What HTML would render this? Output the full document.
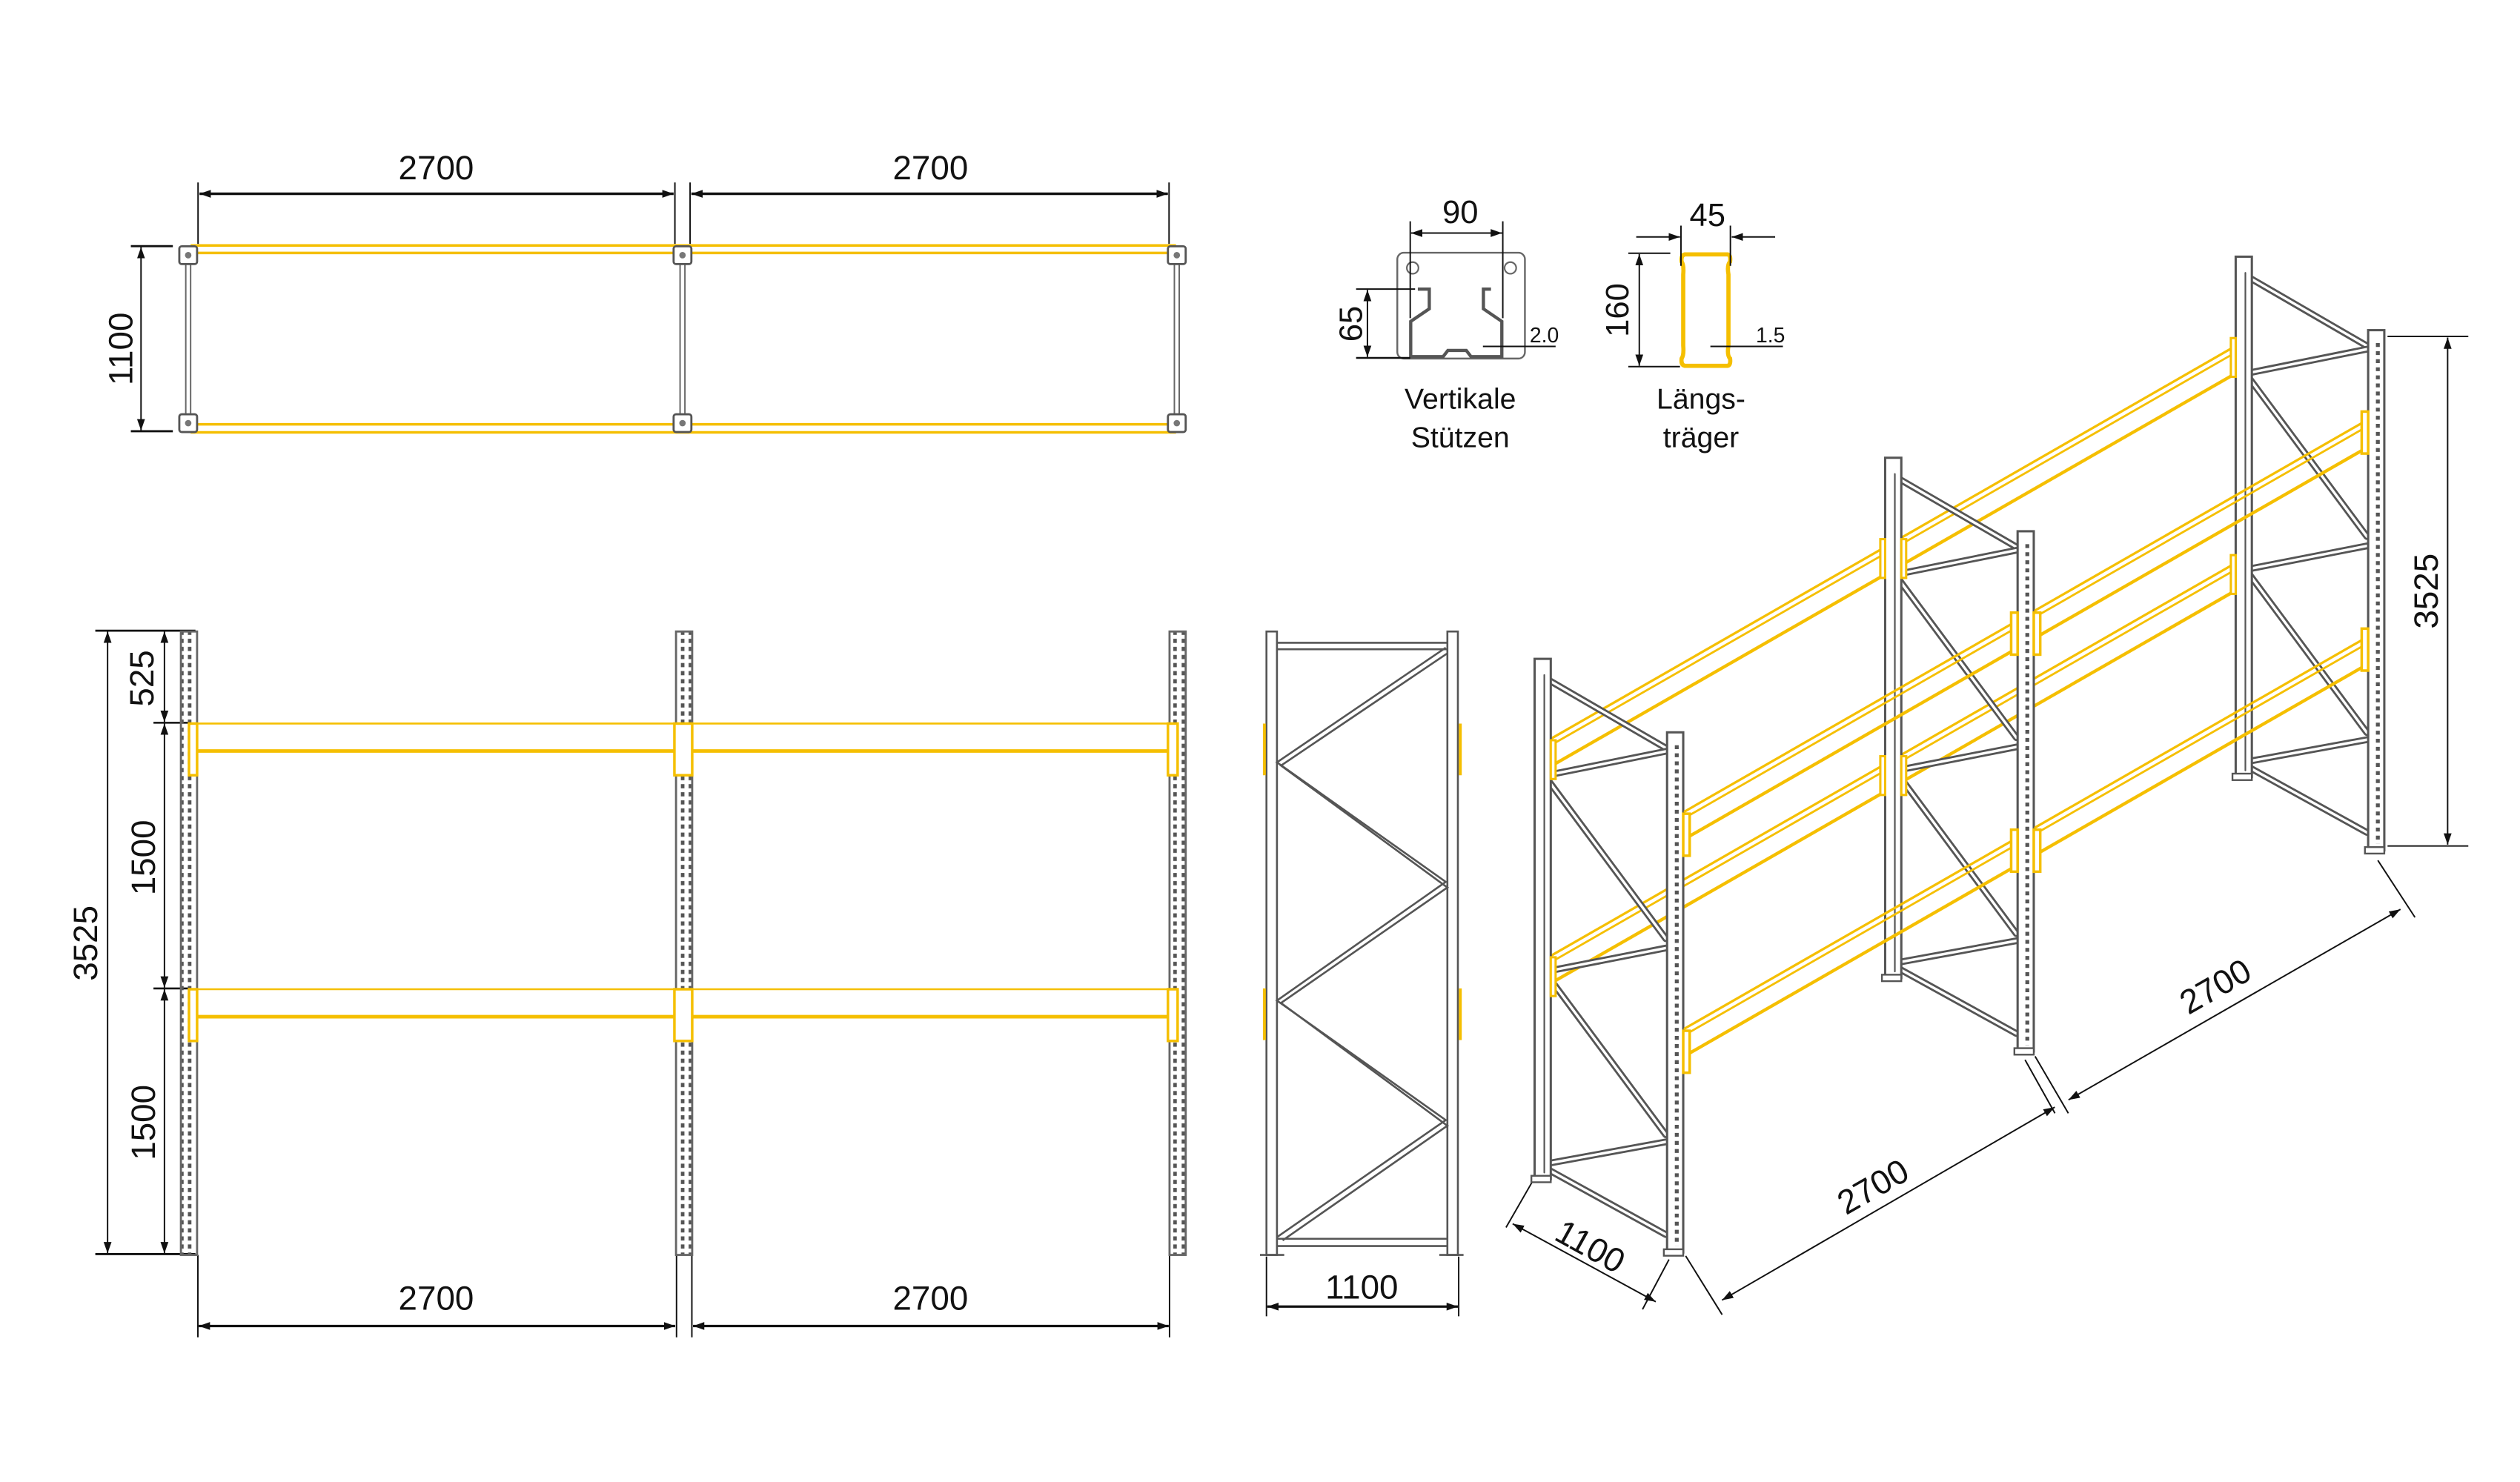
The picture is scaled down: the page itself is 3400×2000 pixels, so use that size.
<!DOCTYPE html>
<html><head><meta charset="utf-8"><style>
html,body{margin:0;padding:0;background:#fff;}
svg{display:block;}
text{font-family:"Liberation Sans",sans-serif;fill:#111;}
</style></head><body>
<svg id="s" width="3400" height="2000" viewBox="0 0 1560 917.6" preserveAspectRatio="none" xmlns="http://www.w3.org/2000/svg">
<defs>
<marker id="ar" viewBox="0 0 10 10" refX="10" refY="5" markerWidth="7" markerHeight="7" orient="auto-start-reverse" markerUnits="userSpaceOnUse"><path d="M0,1.5 L10,5 L0,8.5 Z" fill="#111"/></marker>
<pattern id="perf" width="10" height="5" patternUnits="userSpaceOnUse"><rect x="1.5" y="0.5" width="2.2" height="2.6" fill="#555"/><rect x="6.3" y="0.5" width="2.2" height="2.6" fill="#555"/></pattern>
</defs>
<g id="static" stroke-linecap="butt">
<!-- ===== TOP VIEW ===== -->
<g stroke="#111" stroke-width="0.9" fill="none">
<line x1="122.6" y1="113" x2="122.6" y2="151"/><line x1="417.8" y1="113" x2="417.8" y2="151"/>
<line x1="427.2" y1="113" x2="427.2" y2="151"/><line x1="723.7" y1="113" x2="723.7" y2="151"/>
<line x1="123.5" y1="120" x2="417" y2="120" stroke-width="1.6" marker-start="url(#ar)" marker-end="url(#ar)"/>
<line x1="428" y1="120" x2="723" y2="120" stroke-width="1.6" marker-start="url(#ar)" marker-end="url(#ar)"/>
<line x1="81" y1="152.4" x2="107" y2="152.4" stroke-width="1.3"/><line x1="81" y1="267" x2="107" y2="267" stroke-width="1.3"/>
<line x1="87.3" y1="153" x2="87.3" y2="266.5" marker-start="url(#ar)" marker-end="url(#ar)"/>
</g>
<text x="270" y="111" font-size="21" text-anchor="middle">2700</text>
<text x="576" y="111" font-size="21" text-anchor="middle">2700</text>
<text transform="translate(82,216) rotate(-90)" font-size="21" text-anchor="middle">1100</text>
<g stroke="#f5bf00" stroke-width="1.6">
<line x1="118" y1="152" x2="728" y2="152"/><line x1="118" y1="156.6" x2="728" y2="156.6"/>
<line x1="118" y1="262.7" x2="728" y2="262.7"/><line x1="118" y1="267.7" x2="728" y2="267.7"/>
</g>
<g stroke="#666" stroke-width="0.9" fill="none">
<line x1="115" y1="163" x2="115" y2="257"/><line x1="118" y1="163" x2="118" y2="257"/>
<line x1="421" y1="163" x2="421" y2="257"/><line x1="424" y1="163" x2="424" y2="257"/>
<line x1="727" y1="163" x2="727" y2="257"/><line x1="730" y1="163" x2="730" y2="257"/>
</g>
<g stroke="#555" stroke-width="1.3" fill="#fff">
<rect x="111" y="152.5" width="11" height="11" rx="1.5"/><rect x="111" y="256.5" width="11" height="11" rx="1.5"/>
<rect x="417" y="152.5" width="11" height="11" rx="1.5"/><rect x="417" y="256.5" width="11" height="11" rx="1.5"/>
<rect x="723" y="152.5" width="11" height="11" rx="1.5"/><rect x="723" y="256.5" width="11" height="11" rx="1.5"/>
</g>
<g fill="#777"><circle cx="116.5" cy="158" r="2"/><circle cx="116.5" cy="262" r="2"/><circle cx="422.5" cy="158" r="2"/><circle cx="422.5" cy="262" r="2"/><circle cx="728.5" cy="158" r="2"/><circle cx="728.5" cy="262" r="2"/></g>

<!-- ===== FRONT VIEW ===== -->
<g stroke="#111" stroke-width="0.9" fill="none">
<line x1="59" y1="390.5" x2="121" y2="390.5" stroke-width="1.3"/><line x1="59" y1="776.5" x2="121" y2="776.5" stroke-width="1.3"/>
<line x1="95" y1="447.5" x2="118" y2="447.5" stroke-width="1.2"/><line x1="95" y1="612" x2="118" y2="612" stroke-width="1.2"/>
<line x1="66.6" y1="391" x2="66.6" y2="776" marker-start="url(#ar)" marker-end="url(#ar)"/>
<line x1="101.8" y1="391" x2="101.8" y2="447" marker-start="url(#ar)" marker-end="url(#ar)"/>
<line x1="101.8" y1="448" x2="101.8" y2="611.5" marker-start="url(#ar)" marker-end="url(#ar)"/>
<line x1="101.8" y1="612.5" x2="101.8" y2="776" marker-start="url(#ar)" marker-end="url(#ar)"/>
<line x1="122.5" y1="777" x2="122.5" y2="828"/><line x1="418.8" y1="777" x2="418.8" y2="828"/>
<line x1="428.3" y1="777" x2="428.3" y2="828"/><line x1="724" y1="777" x2="724" y2="828"/>
<line x1="123" y1="821" x2="418" y2="821" stroke-width="1.5" marker-start="url(#ar)" marker-end="url(#ar)"/>
<line x1="429" y1="821" x2="723.5" y2="821" stroke-width="1.5" marker-start="url(#ar)" marker-end="url(#ar)"/>
</g>
<text transform="translate(95,420) rotate(-90)" font-size="21" text-anchor="middle">525</text>
<text transform="translate(96,531) rotate(-90)" font-size="21" text-anchor="middle">1500</text>
<text transform="translate(96,695) rotate(-90)" font-size="21" text-anchor="middle">1500</text>
<text transform="translate(60,584) rotate(-90)" font-size="21" text-anchor="middle">3525</text>
<text x="270" y="811" font-size="21" text-anchor="middle">2700</text>
<text x="576" y="811" font-size="21" text-anchor="middle">2700</text>
<g stroke="#666" stroke-width="1.3">
<rect x="112" y="391" width="10" height="386" fill="url(#perf)"/>
<rect x="418.5" y="391" width="10" height="386" fill="url(#perf)"/>
<rect x="724" y="391" width="10" height="386" fill="url(#perf)"/>
</g>
<g stroke="#f5bf00" fill="none">
<line x1="122" y1="448" x2="418.5" y2="448" stroke-width="1.2"/><line x1="122" y1="465" x2="418.5" y2="465" stroke-width="2.2"/>
<line x1="428.5" y1="448" x2="724" y2="448" stroke-width="1.2"/><line x1="428.5" y1="465" x2="724" y2="465" stroke-width="2.2"/>
<line x1="122" y1="612.5" x2="418.5" y2="612.5" stroke-width="1.2"/><line x1="122" y1="629.5" x2="418.5" y2="629.5" stroke-width="2.2"/>
<line x1="428.5" y1="612.5" x2="724" y2="612.5" stroke-width="1.2"/><line x1="428.5" y1="629.5" x2="724" y2="629.5" stroke-width="2.2"/>
<g stroke-width="1.6" fill="#fff">
<rect x="117" y="448" width="5" height="32"/><rect x="417.5" y="448" width="11" height="32"/><rect x="723" y="448" width="6" height="32"/>
<rect x="117" y="612.5" width="5" height="32"/><rect x="417.5" y="612.5" width="11" height="32"/><rect x="723" y="612.5" width="6" height="32"/>
</g>
</g>

<!-- ===== SIDE FRAME ===== -->
<g fill="none" stroke="#555" stroke-width="1.2">
<rect x="784" y="391" width="6.5" height="386"/><rect x="896" y="391" width="6.5" height="386"/>
<line x1="790.5" y1="398" x2="896" y2="398"/><line x1="790.5" y1="402" x2="896" y2="402"/>
<line x1="790.5" y1="767" x2="896" y2="767"/><line x1="790.5" y1="771.5" x2="896" y2="771.5"/>
<polyline points="895,401 790.5,472 895,546 790.5,619.5 895,693.5 790.5,766"/>
<polyline points="896,404.5 793,474 896,549.5 793,621 896,697 794,768"/>
<line x1="780" y1="777" x2="795" y2="777"/><line x1="891" y1="777" x2="906" y2="777"/>
</g>
<g stroke="#f5bf00" stroke-width="1.8">
<line x1="782.7" y1="448" x2="782.7" y2="480"/><line x1="904" y1="448" x2="904" y2="480"/>
<line x1="782.7" y1="612" x2="782.7" y2="644"/><line x1="904" y1="612" x2="904" y2="644"/>
</g>
<g stroke="#111" stroke-width="0.9">
<line x1="784" y1="778" x2="784" y2="815"/><line x1="903" y1="778" x2="903" y2="815"/>
<line x1="784.5" y1="809" x2="902.5" y2="809" stroke-width="1.5" marker-start="url(#ar)" marker-end="url(#ar)"/>
</g>
<text x="843" y="804" font-size="21" text-anchor="middle">1100</text>

<!-- ===== PROFILES ===== -->
<rect x="865" y="156.5" width="79" height="65.5" rx="4" fill="none" stroke="#666" stroke-width="1.1"/>
<g fill="none" stroke="#666" stroke-width="1"><circle cx="874.5" cy="165.9" r="3.6"/><circle cx="935" cy="165.9" r="3.6"/></g>
<path d="M877.7,179 L884.8,179 L884.8,191.2 L873.3,199 L873.3,220.8 L893.4,220.8 L896.3,217 L907.7,217 L910.6,220.8 L929.7,220.8 L929.7,199 L918.3,191.2 L918.3,179 L923,179" fill="none" stroke="#555" stroke-width="2"/>
<g stroke="#111" stroke-width="0.9" fill="none">
<line x1="873" y1="137" x2="873" y2="197"/><line x1="930.3" y1="137" x2="930.3" y2="197"/>
<line x1="873.5" y1="144.3" x2="929.8" y2="144.3" marker-start="url(#ar)" marker-end="url(#ar)"/>
<line x1="839.5" y1="179" x2="876" y2="179"/><line x1="839.5" y1="221.6" x2="873" y2="221.6" stroke-width="1.2"/>
<line x1="846.5" y1="179.5" x2="846.5" y2="221" marker-start="url(#ar)" marker-end="url(#ar)"/>
<line x1="918" y1="214.5" x2="963" y2="214.5"/>
</g>
<text x="904" y="138" font-size="20" text-anchor="middle">90</text>
<text transform="translate(843,200.5) rotate(-90)" font-size="20" text-anchor="middle">65</text>
<text x="956" y="212" font-size="13" text-anchor="middle">2.0</text>
<text x="904" y="253" font-size="18" text-anchor="middle">Vertikale</text>
<text x="904" y="277" font-size="18" text-anchor="middle">Stützen</text>
<path d="M1043,157.5 L1069.5,157.5 Q1071.5,158 1071,162 Q1069,164 1070,170 L1070,214 Q1069,220 1071,222 Q1071.5,226 1069.5,226.5 L1043,226.5 Q1040.5,226 1041,222 Q1042.5,220 1042,214 L1042,170 Q1042.5,164 1041,162 Q1040.5,158 1043,157.5 Z" fill="none" stroke="#f5bf00" stroke-width="2.6"/>
<g stroke="#111" stroke-width="0.9" fill="none">
<line x1="1040.6" y1="139.7" x2="1040.6" y2="164.6"/><line x1="1071.2" y1="139.7" x2="1071.2" y2="164.6"/>
<line x1="1012.9" y1="146.7" x2="1040" y2="146.7" marker-end="url(#ar)"/>
<line x1="1098.9" y1="146.7" x2="1072" y2="146.7" marker-end="url(#ar)"/>
<line x1="1008" y1="156.8" x2="1034" y2="156.8"/><line x1="1008" y1="227" x2="1040" y2="227"/>
<line x1="1014.8" y1="157.3" x2="1014.8" y2="226.5" marker-start="url(#ar)" marker-end="url(#ar)"/>
<line x1="1058.8" y1="214.5" x2="1103.7" y2="214.5"/>
</g>
<text x="1057" y="140" font-size="20" text-anchor="middle">45</text>
<text transform="translate(1008,192) rotate(-90)" font-size="20" text-anchor="middle">160</text>
<text x="1096" y="212" font-size="13" text-anchor="middle">1.5</text>
<text x="1053" y="253" font-size="18" text-anchor="middle">Längs-</text>
<text x="1053" y="277" font-size="18" text-anchor="middle">träger</text>

<!-- ===== ISO DIMENSIONS ===== -->
<g stroke="#111" stroke-width="0.9" fill="none">
<line x1="1478" y1="208.3" x2="1528" y2="208.3"/><line x1="1478" y1="523.8" x2="1528" y2="523.8"/>
<line x1="1515.2" y1="209" x2="1515.2" y2="523" marker-start="url(#ar)" marker-end="url(#ar)"/>
<line x1="1472" y1="532.7" x2="1495" y2="568"/>
<line x1="1486" y1="563" x2="1280.5" y2="681" marker-start="url(#ar)" marker-end="url(#ar)"/>
<line x1="1253.6" y1="656.2" x2="1272.1" y2="689.3"/>
<line x1="1259.8" y1="654" x2="1280.4" y2="689.3"/>
<line x1="1272" y1="685.5" x2="1066" y2="805" marker-start="url(#ar)" marker-end="url(#ar)"/>
<line x1="1043.5" y1="777.6" x2="1066.1" y2="814"/>
<line x1="948.8" y1="731.3" x2="932.3" y2="760"/>
<line x1="1033.2" y1="779.8" x2="1016.8" y2="810.7"/>
<line x1="936.4" y1="757.7" x2="1025" y2="806" marker-start="url(#ar)" marker-end="url(#ar)"/>
</g>
<text transform="translate(1509,366) rotate(-90)" font-size="21" text-anchor="middle">3525</text>
<text transform="translate(1375,617) rotate(-29.8)" font-size="21" text-anchor="middle">2700</text>
<text transform="translate(1163,741) rotate(-29.8)" font-size="21" text-anchor="middle">2700</text>
<text transform="translate(981,778) rotate(29)" font-size="21" text-anchor="middle">1100</text>
</g>
<g id="iso"></g>
</svg>
<script>
(function(){
var NS="http://www.w3.org/2000/svg",g=document.getElementById("iso");
function P(L,D,H){return [955+L*217+D*82, 730-L*124.5+D*45.5-H*0.0908];}
function el(n,a){var e=document.createElementNS(NS,n);for(var k in a)e.setAttribute(k,a[k]);g.appendChild(e);return e;}
function line(x1,y1,x2,y2,c,w){el("line",{x1:x1,y1:y1,x2:x2,y2:y2,stroke:c,"stroke-width":w,"stroke-linecap":"round"});}
var Y="#f5bf00",G="#555";
function beam(b,D,H){
 var a=P(b,D,H),c=P(b+1,D,H);
 var x1=a[0]+6,y1=a[1]-6*0.5737,x2=c[0]-6,y2=c[1]+6*0.5737;
 line(x1,y1,x2,y2,Y,1.5);line(x1,y1+4,x2,y2+4,Y,1.3);line(x1,y1+17,x2,y2+17,Y,2);
}
// back beams
[2970,1490].forEach(function(H){for(var b=0;b<2;b++)beam(b,0,H);});
// frames
var mem=[[957,420.1,1033.2,464.3],[959.1,479.7,1031.2,465.2],[959.1,484.1,1031.2,581.2],[959.1,601.1,1031.2,587],[959.1,605.5,1031.2,702.6],[959.1,720.2,1031.2,707],[959.1,724.6,1031.2,764.4]];
for(var L=0;L<3;L++){
 var ox=L*217,oy=-L*124.5;
 mem.forEach(function(m){
  line(m[0]+ox,m[1]+oy,m[2]+ox,m[3]+oy,G,4.2);
  line(m[0]+ox,m[1]+oy,m[2]+ox,m[3]+oy,"#fff",1.6);
 });
 var bt=P(L,0,3525),bb=P(L,0,0);
 el("rect",{x:bt[0]-5,y:bt[1]-2,width:10,height:bb[1]-bt[1]+2,fill:"#fff",stroke:G,"stroke-width":1.4});
 line(bt[0]+1,bt[1]+8,bt[0]+1,bb[1]-4,G,1);
 var ft=P(L,1,3525),fb=P(L,1,0);
 el("rect",{x:ft[0]-5,y:ft[1]-2,width:10,height:fb[1]-ft[1]+2,fill:"#fff",stroke:G,"stroke-width":1.4});
 el("line",{x1:ft[0]+1,y1:ft[1]+6,x2:ft[0]+1,y2:fb[1]-4,stroke:G,"stroke-width":2.4,"stroke-dasharray":"2.4 2.6"});
 el("rect",{x:ft[0]-7,y:fb[1]-2,width:12,height:4,fill:"#fff",stroke:G,"stroke-width":1.1});
 el("rect",{x:bt[0]-7,y:bb[1]-2,width:12,height:4,fill:"#fff",stroke:G,"stroke-width":1.1});
}
// front beams
[2970,1490].forEach(function(H){for(var b=0;b<2;b++)beam(b,1,H);});
// connectors
[2970,1490].forEach(function(H){for(var L=0;L<3;L++){
 var p=P(L,1,H);
 if(L<2)el("rect",{x:p[0]+5,y:p[1]-2,width:4,height:26,fill:"#fff",stroke:Y,"stroke-width":1.6});
 if(L>0)el("rect",{x:p[0]-9,y:p[1]-2,width:4,height:26,fill:"#fff",stroke:Y,"stroke-width":1.6});
 var q=P(L,0,H);
 if(L>0)el("rect",{x:q[0]-8,y:q[1]-2,width:3,height:24,fill:"#fff",stroke:Y,"stroke-width":1.4});
 if(L<2)el("rect",{x:q[0]+5,y:q[1]-2,width:3,height:24,fill:"#fff",stroke:Y,"stroke-width":1.4});
}});
})();
</script>
</body></html>
